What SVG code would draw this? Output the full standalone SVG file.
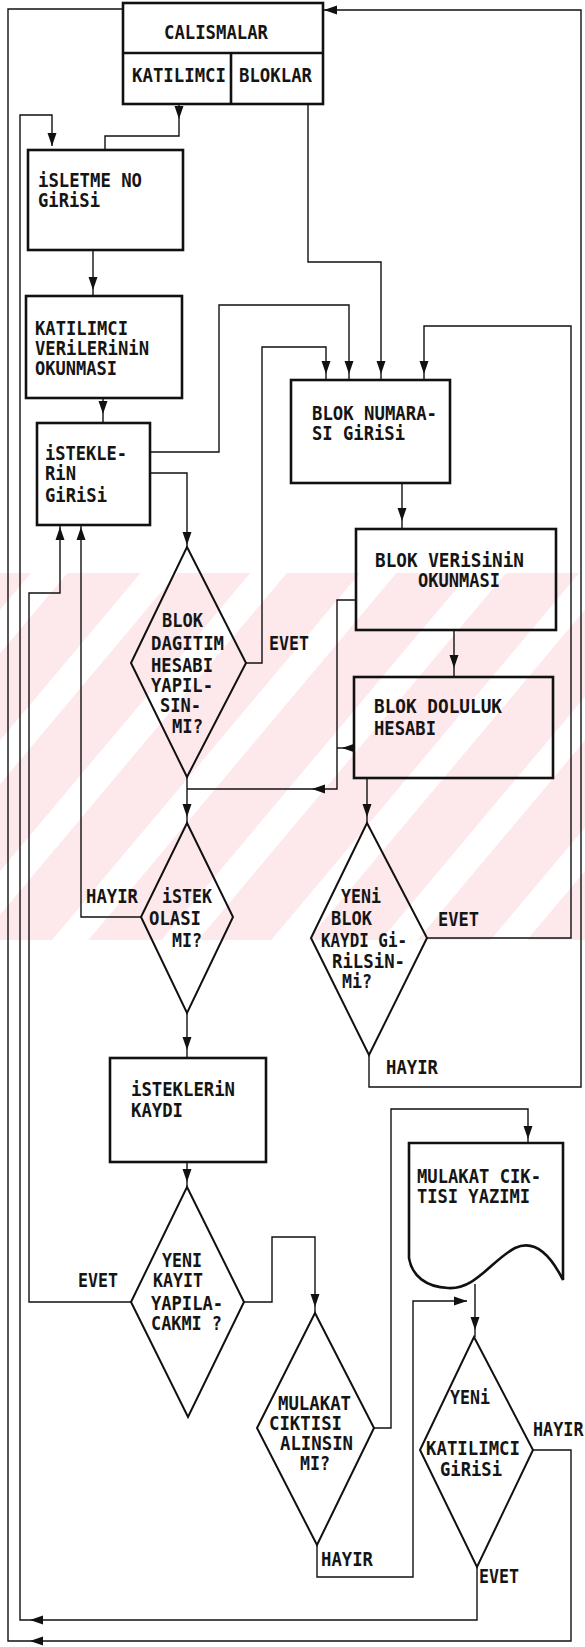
<svg xmlns="http://www.w3.org/2000/svg" xmlns:xlink="http://www.w3.org/1999/xlink" width="585" height="1647" viewBox="0 0 585 1647">
<style>
.box{fill:none;stroke:#111;stroke-width:2.6}
.dia{fill:none;stroke:#111;stroke-width:2}
.con{fill:none;stroke:#111;stroke-width:1.4}
.t{font-family:"DejaVu Sans Mono","Liberation Mono",monospace;font-size:20px;font-weight:bold;fill:#151515}
</style>
<defs>
<path id="ah" d="M0,0 L-4.5,-13 L4.5,-13 Z" fill="#111"/>
<pattern id="wm" width="84" height="84" patternUnits="userSpaceOnUse" patternTransform="rotate(40)">
<rect width="56" height="84" fill="#fde8ec"/>
</pattern>
</defs>
<rect width="585" height="1647" fill="#fff"/>
<rect x="0" y="573" width="585" height="367" fill="url(#wm)"/>

<g id="connectors">
<path class="con" d="M533,1450 H571 V1641 H8 V9 H123"/>
<path class="con" d="M477,1567 V1620 H20 V115 H52 V146"/>
<path class="con" d="M179,104 V136 H105 V150"/>
<path class="con" d="M308,104 V262 H381 V380"/>
<path class="con" d="M93,250 V296"/>
<path class="con" d="M103,398 V423"/>
<path class="con" d="M150,452 H219 V305 H349 V380"/>
<path class="con" d="M150,473 H187 V547"/>
<path class="con" d="M246,663 H262 V347 H326 V380"/>
<path class="con" d="M427,938 H571 V326 H424 V380"/>
<path class="con" d="M369,1055 V1087 H581 V10 H324"/>
<path class="con" d="M402,483 V529"/>
<path class="con" d="M454,630 V677"/>
<path class="con" d="M356,600 H337 V789 H187"/>
<path class="con" d="M354,748 H337"/>
<path class="con" d="M187,777 V823"/>
<path class="con" d="M367,778 V823"/>
<path class="con" d="M141,917 H81 V525"/>
<path class="con" d="M187,1013 V1058"/>
<path class="con" d="M187,1162 V1187"/>
<path class="con" d="M131,1302 H29 V593 H60 V525"/>
<path class="con" d="M244,1302 H272 V1237 H315 V1313"/>
<path class="con" d="M374,1428 H391 V1109 H528 V1143"/>
<path class="con" d="M317,1545 V1577 H413 V1301 H467"/>
<path class="con" d="M475,1284 V1337"/>
<use xlink:href="#ah" href="#ah" transform="translate(324,10) rotate(90)"/>
<use xlink:href="#ah" href="#ah" transform="translate(179,119)"/>
<use xlink:href="#ah" href="#ah" transform="translate(52,146)"/>
<use xlink:href="#ah" href="#ah" transform="translate(93,290)"/>
<use xlink:href="#ah" href="#ah" transform="translate(103,414)"/>
<use xlink:href="#ah" href="#ah" transform="translate(326,374)"/>
<use xlink:href="#ah" href="#ah" transform="translate(349,374)"/>
<use xlink:href="#ah" href="#ah" transform="translate(381,374)"/>
<use xlink:href="#ah" href="#ah" transform="translate(424,374)"/>
<use xlink:href="#ah" href="#ah" transform="translate(402,521)"/>
<use xlink:href="#ah" href="#ah" transform="translate(187,545)"/>
<use xlink:href="#ah" href="#ah" transform="translate(60,527) rotate(180)"/>
<use xlink:href="#ah" href="#ah" transform="translate(81,527) rotate(180)"/>
<use xlink:href="#ah" href="#ah" transform="translate(454,668)"/>
<use xlink:href="#ah" href="#ah" transform="translate(342,748) rotate(90)"/>
<use xlink:href="#ah" href="#ah" transform="translate(312,789) rotate(90)"/>
<use xlink:href="#ah" href="#ah" transform="translate(187,817)"/>
<use xlink:href="#ah" href="#ah" transform="translate(367,817)"/>
<use xlink:href="#ah" href="#ah" transform="translate(187,1050)"/>
<use xlink:href="#ah" href="#ah" transform="translate(528,1139)"/>
<use xlink:href="#ah" href="#ah" transform="translate(187,1182)"/>
<use xlink:href="#ah" href="#ah" transform="translate(315,1307)"/>
<use xlink:href="#ah" href="#ah" transform="translate(467,1301) rotate(-90)"/>
<use xlink:href="#ah" href="#ah" transform="translate(475,1330)"/>
<use xlink:href="#ah" href="#ah" transform="translate(30,1620) rotate(90)"/>
<use xlink:href="#ah" href="#ah" transform="translate(30,1641) rotate(90)"/>
<text class="t" x="269" y="650" textLength="40" lengthAdjust="spacingAndGlyphs">EVET</text>
<text class="t" x="86" y="903" textLength="52" lengthAdjust="spacingAndGlyphs">HAYIR</text>
<text class="t" x="438" y="926" textLength="41" lengthAdjust="spacingAndGlyphs">EVET</text>
<text class="t" x="386" y="1074" textLength="52" lengthAdjust="spacingAndGlyphs">HAYIR</text>
<text class="t" x="78" y="1287" textLength="40" lengthAdjust="spacingAndGlyphs">EVET</text>
<text class="t" x="321" y="1566" textLength="52" lengthAdjust="spacingAndGlyphs">HAYIR</text>
<text class="t" x="0" y="0" style="font-size:16.8px" transform="translate(533,1436) scale(1,1.19)">HAYIR</text>
<text class="t" x="479" y="1583" textLength="40" lengthAdjust="spacingAndGlyphs">EVET</text>
</g>

<g id="calismalar">
<rect class="box" x="123" y="3" width="200" height="101"/>
<path class="box" d="M123,53 H323 M231,53 V104"/>
<text class="t" x="164" y="39" textLength="104" lengthAdjust="spacingAndGlyphs">CALISMALAR</text>
<text class="t" x="132" y="82" textLength="94" lengthAdjust="spacingAndGlyphs">KATILIMCI</text>
<text class="t" x="239" y="82" textLength="73" lengthAdjust="spacingAndGlyphs">BLOKLAR</text>
</g>

<g id="isletme">
<rect class="box" x="28" y="150" width="155" height="100"/>
<text class="t"><tspan x="38" y="187" textLength="104" lengthAdjust="spacingAndGlyphs">iSLETME NO</tspan><tspan x="38" y="207" textLength="62" lengthAdjust="spacingAndGlyphs">GiRiSi</tspan></text>
</g>

<g id="katilimci-verileri">
<rect class="box" x="26" y="296" width="156" height="102"/>
<text class="t"><tspan x="35" y="335" textLength="93" lengthAdjust="spacingAndGlyphs">KATILIMCI</tspan><tspan x="35" y="355" textLength="114" lengthAdjust="spacingAndGlyphs">VERiLERiNiN</tspan><tspan x="35" y="375" textLength="82" lengthAdjust="spacingAndGlyphs">OKUNMASI</tspan></text>
</g>

<g id="istek-girisi">
<rect class="box" x="37" y="423" width="113" height="102"/>
<text class="t"><tspan x="45" y="460" textLength="82" lengthAdjust="spacingAndGlyphs">iSTEKLE-</tspan><tspan x="45" y="480" textLength="31" lengthAdjust="spacingAndGlyphs">RiN</tspan><tspan x="45" y="502" textLength="62" lengthAdjust="spacingAndGlyphs">GiRiSi</tspan></text>
</g>

<g id="blok-numarasi">
<rect class="box" x="291" y="380" width="159" height="103"/>
<text class="t"><tspan x="312" y="420" textLength="125" lengthAdjust="spacingAndGlyphs">BLOK NUMARA-</tspan><tspan x="312" y="440" textLength="93" lengthAdjust="spacingAndGlyphs">SI GiRiSi</tspan></text>
</g>

<g id="blok-verisi">
<rect class="box" x="356" y="529" width="200" height="101"/>
<text class="t"><tspan x="375" y="567" textLength="149" lengthAdjust="spacingAndGlyphs">BLOK VERiSiNiN</tspan><tspan x="418" y="587" textLength="82" lengthAdjust="spacingAndGlyphs">OKUNMASI</tspan></text>
</g>

<g id="blok-doluluk">
<rect class="box" x="354" y="677" width="199" height="101"/>
<text class="t"><tspan x="374" y="713" textLength="128" lengthAdjust="spacingAndGlyphs">BLOK DOLULUK</tspan><tspan x="374" y="735" textLength="62" lengthAdjust="spacingAndGlyphs">HESABI</tspan></text>
</g>

<g id="blok-dagitim">
<path class="dia" d="M187,547 L246,663 L187,777 L131,663 Z"/>
<text class="t"><tspan x="162" y="627" textLength="41" lengthAdjust="spacingAndGlyphs">BLOK</tspan><tspan x="151" y="650" textLength="73" lengthAdjust="spacingAndGlyphs">DAGITIM</tspan><tspan x="151" y="672" textLength="62" lengthAdjust="spacingAndGlyphs">HESABI</tspan><tspan x="151" y="692" textLength="62" lengthAdjust="spacingAndGlyphs">YAPIL-</tspan><tspan x="160" y="712" textLength="41" lengthAdjust="spacingAndGlyphs">SIN-</tspan><tspan x="172" y="733" textLength="31" lengthAdjust="spacingAndGlyphs">MI?</tspan></text>
</g>

<g id="istek-olasi">
<path class="dia" d="M187,823 L233,917 L187,1013 L141,917 Z"/>
<text class="t"><tspan x="162" y="903" textLength="50" lengthAdjust="spacingAndGlyphs">iSTEK</tspan><tspan x="149" y="925" textLength="52" lengthAdjust="spacingAndGlyphs">OLASI</tspan><tspan x="172" y="947" textLength="30" lengthAdjust="spacingAndGlyphs">MI?</tspan></text>
</g>

<g id="yeni-blok">
<path class="dia" d="M367,823 L427,938 L369,1055 L311,938 Z"/>
<text class="t"><tspan x="341" y="903" textLength="40" lengthAdjust="spacingAndGlyphs">YENi</tspan><tspan x="331" y="925" textLength="41" lengthAdjust="spacingAndGlyphs">BLOK</tspan><tspan x="321" y="947" textLength="86" lengthAdjust="spacingAndGlyphs">KAYDI Gi-</tspan><tspan x="332" y="968" textLength="73" lengthAdjust="spacingAndGlyphs">RiLSiN-</tspan><tspan x="342" y="988" textLength="30" lengthAdjust="spacingAndGlyphs">Mi?</tspan></text>
</g>

<g id="istek-kaydi">
<rect class="box" x="110" y="1058" width="156" height="104"/>
<text class="t"><tspan x="131" y="1096" textLength="104" lengthAdjust="spacingAndGlyphs">iSTEKLERiN</tspan><tspan x="131" y="1117" textLength="52" lengthAdjust="spacingAndGlyphs">KAYDI</tspan></text>
</g>

<g id="yeni-kayit">
<path class="dia" d="M187,1187 L244,1302 L188,1417 L131,1302 Z"/>
<text class="t"><tspan x="162" y="1267" textLength="40" lengthAdjust="spacingAndGlyphs">YENI</tspan><tspan x="153" y="1287" textLength="50" lengthAdjust="spacingAndGlyphs">KAYIT</tspan><tspan x="151" y="1310" textLength="72" lengthAdjust="spacingAndGlyphs">YAPILA-</tspan><tspan x="151" y="1330" textLength="71" lengthAdjust="spacingAndGlyphs">CAKMI ?</tspan></text>
</g>

<g id="mulakat-ciktisi-yazimi">
<path class="box" d="M409,1143 H563 V1280 C548,1250 532,1240 515,1248 C492,1260 475,1290 448,1288 C426,1287 412,1276 409,1258 Z"/>
<text class="t"><tspan x="417" y="1183" textLength="124" lengthAdjust="spacingAndGlyphs">MULAKAT CIK-</tspan><tspan x="417" y="1203" textLength="113" lengthAdjust="spacingAndGlyphs">TISI YAZIMI</tspan></text>
</g>

<g id="mulakat-ciktisi">
<path class="dia" d="M315,1313 L374,1428 L317,1545 L257,1428 Z"/>
<text class="t"><tspan x="278" y="1410" textLength="73" lengthAdjust="spacingAndGlyphs">MULAKAT</tspan><tspan x="269" y="1430" textLength="73" lengthAdjust="spacingAndGlyphs">CIKTISI</tspan><tspan x="280" y="1450" textLength="73" lengthAdjust="spacingAndGlyphs">ALINSIN</tspan><tspan x="300" y="1470" textLength="30" lengthAdjust="spacingAndGlyphs">MI?</tspan></text>
</g>

<g id="yeni-katilimci">
<path class="dia" d="M474,1337 L533,1450 L477,1567 L420,1450 Z"/>
<text class="t"><tspan x="450" y="1404" textLength="40" lengthAdjust="spacingAndGlyphs">YENi</tspan><tspan x="426" y="1455" textLength="94" lengthAdjust="spacingAndGlyphs">KATILIMCI</tspan><tspan x="440" y="1476" textLength="62" lengthAdjust="spacingAndGlyphs">GiRiSi</tspan></text>
</g>
</svg>
